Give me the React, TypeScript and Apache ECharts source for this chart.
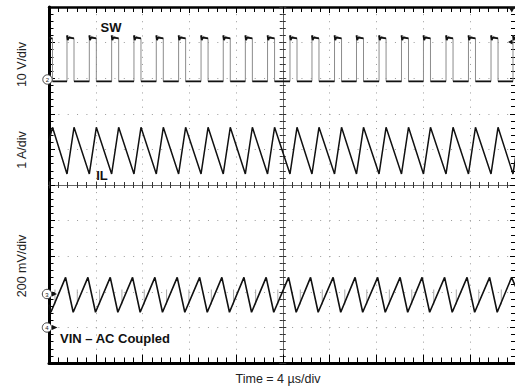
import React, { useEffect, useRef } from 'react';
import * as echarts from 'echarts';

// ---------- time base ----------
const timeMinUs = 0;
const timeMaxUs = 40; // 10 div x 4 us/div
const timeDivUs = 4;

// ---------- channel 2: SW node (10 V/div) ----------
const swRiseUs = [1.54, 3.45, 5.36, 7.27, 9.18, 11.09, 13.01, 14.91, 16.8, 18.7, 20.62, 22.5, 24.43, 26.31, 28.24, 30.16, 32.04, 33.97, 35.89, 37.82, 39.7];
const swFallUs = [0.3, 2.14, 4.05, 5.96, 7.87, 9.78, 11.69, 13.61, 15.51, 17.4, 19.3, 21.22, 23.1, 25.03, 26.91, 28.84, 30.76, 32.64, 34.57, 36.49, 38.42];
const swLowV = -0.4;
const swHighV = 11.7;
const swOvershootV = 12.5;
const swRingV = 11.2;

// ---------- channel 1: IL (1 A/div) ----------
const ilPeakA = 2.62;
const ilValleyA = 1.31;
const ilStartA = 2.25;
const ilEndA = 1.95;

// ---------- channel 3: VIN AC coupled (200 mV/div) ----------
const vinPeakUs = [1.42, 3.33, 5.24, 7.15, 9.06, 10.97, 12.89, 14.79, 16.68, 18.58, 20.5, 22.38, 24.31, 26.19, 28.12, 30.04, 31.92, 33.85, 35.77, 37.7, 39.58];
const vinTroughUs = [0.16, 2.07, 3.98, 5.89, 7.8, 9.71, 11.62, 13.54, 15.44, 17.33, 19.23, 21.15, 23.03, 24.96, 26.84, 28.77, 30.69, 32.57, 34.5, 36.42, 38.35];
const vinSpikeUs = [0.51, 2.42, 4.33, 6.24, 8.15, 10.06, 11.97, 13.89, 15.79, 17.68, 19.58, 21.5, 23.38, 25.31, 27.19, 29.12, 31.04, 32.92, 34.85, 36.77, 38.7];
const vinPeakMv = 93;
const vinTroughMv = -103;
const vinStartMv = -60;
const vinEndMv = 30;
const vinSpikeLowMv = -60;
const vinSpikeHighMv = 25;

// ---------- channel scales (units/div, reference position in div from bottom) ----------
const swPerDiv = 10, swRefDiv = 7.95;
const ilPerDiv = 1, ilRefDiv = 4;
const vinPerDiv = 200, vinRefDiv = 1.94;

// ---------- labels ----------
const yNames = ['10 V/div', '1 A/div', '200 mV/div'];
const xName = 'Time = 4 \u00b5s/div';
const traceNames = ['SW', 'IL', 'VIN \u2013 AC Coupled'];

type P = [number, number | string];

function buildSwEdges(): P[] {
  const ev = [
    ...swFallUs.map((t) => ({ t, k: 'f' })),
    ...swRiseUs.map((t) => ({ t, k: 'r' })),
  ].sort((a, b) => a.t - b.t);
  const d: P[] = [[timeMinUs, swHighV]];
  let last = swHighV;
  for (const e of ev) {
    if (e.k === 'f') {
      d.push([e.t, swHighV], [e.t, swLowV]);
      last = swLowV;
    } else {
      d.push([e.t, swLowV], [e.t, swOvershootV]);
      last = swHighV;
    }
  }
  d.push([timeMaxUs, last]);
  return d;
}

function buildSwLevels(): P[] {
  const ev = [
    ...swFallUs.map((t) => ({ t, k: 'f' })),
    ...swRiseUs.map((t) => ({ t, k: 'r' })),
  ].sort((a, b) => a.t - b.t);
  const d: P[] = [[timeMinUs, swHighV]];
  for (const e of ev) {
    if (e.k === 'f') {
      d.push([e.t, swHighV], [e.t, '-'], [e.t, swLowV]);
    } else {
      d.push([e.t, swLowV], [e.t, '-'], [e.t, swOvershootV], [e.t + 0.06, swRingV], [e.t + 0.14, swHighV + 0.2]);
    }
  }
  const lastRise = swRiseUs[swRiseUs.length - 1];
  const lastFall = swFallUs[swFallUs.length - 1];
  d.push([timeMaxUs, lastRise > lastFall ? swHighV : swLowV]);
  return d;
}

function buildIl(): P[] {
  const ev = [
    ...swFallUs.map((t) => [t, ilPeakA] as P),
    ...swRiseUs.map((t) => [t, ilValleyA] as P),
  ].sort((a, b) => (a[0] as number) - (b[0] as number));
  return [[timeMinUs, ilStartA], ...ev, [timeMaxUs, ilEndA]];
}

function buildVin(): P[] {
  const ev = [
    ...vinPeakUs.map((t) => [t, vinPeakMv] as P),
    ...vinTroughUs.map((t) => [t, vinTroughMv] as P),
  ].sort((a, b) => (a[0] as number) - (b[0] as number));
  return [[timeMinUs, vinStartMv], ...ev, [timeMaxUs, vinEndMv]];
}

function buildVinSpikes(): P[] {
  const d: P[] = [];
  for (const t of vinSpikeUs) {
    d.push([t, vinSpikeLowMv], [t, vinSpikeHighMv], [t, '-']);
  }
  return d;
}

const FONT = '"Liberation Sans", Arial, Helvetica, sans-serif';
const DOT = '#9a9a9a';

function buildOption(): any {
  const xBase = {
    type: 'value',
    min: timeMinUs,
    max: timeMaxUs,
    interval: timeDivUs,
    axisLabel: { show: false },
    splitLine: { show: false },
  };
  const yBase = {
    type: 'value',
    min: 0,
    max: 10,
    interval: 1,
    axisLabel: { show: false },
    splitLine: { show: false },
  };
  const marker = (cx: number, cy: number, label: string) => [
    { type: 'circle', shape: { cx, cy, r: 4.7 }, style: { fill: '#fff', stroke: '#444', lineWidth: 1 }, z: 20 },
    {
      type: 'text', x: cx, y: cy + 0.5, z: 21,
      style: { text: label, font: '6px ' + FONT, fill: '#222', textAlign: 'center', textVerticalAlign: 'middle' },
    },
  ];
  return {
    animation: false,
    backgroundColor: '#fff',
    grid: { left: 49, top: 7, width: 467.5, height: 356, outerBoundsMode: 'none', containLabel: false },
    xAxis: [
      {
        ...xBase, position: 'bottom',
        axisLine: { show: true, onZero: false, lineStyle: { color: '#000', width: 3 } },
        axisTick: { show: true, inside: true, length: 8.5, lineStyle: { color: '#000', width: 1 } },
        minorTick: { show: true, splitNumber: 5, length: 5.5, lineStyle: { color: '#000', width: 1 } },
        splitLine: { show: true, lineStyle: { color: DOT, width: 1, type: [1, 6.12] } },
      },
      {
        ...xBase, position: 'top',
        axisLine: { show: true, onZero: false, lineStyle: { color: '#000', width: 2.5 } },
        axisTick: { show: true, inside: true, length: 6, lineStyle: { color: '#000', width: 1 } },
        minorTick: { show: true, splitNumber: 5, length: 5, lineStyle: { color: '#000', width: 1 } },
      },
      {
        ...xBase, position: 'bottom', offset: -178,
        axisLine: { show: true, onZero: false, lineStyle: { color: '#666', width: 1 } },
        axisTick: { show: true, inside: true, length: 3.5, lineStyle: { color: '#333', width: 1 } },
        minorTick: { show: true, splitNumber: 5, length: 3, lineStyle: { color: '#333', width: 1 } },
      },
      {
        ...xBase, position: 'bottom', offset: -178,
        axisLine: { show: false, onZero: false },
        axisTick: { show: true, inside: false, length: 3.5, lineStyle: { color: '#333', width: 1 } },
        minorTick: { show: true, splitNumber: 5, length: 3, lineStyle: { color: '#333', width: 1 } },
      },
    ],
    yAxis: [
      {
        ...yBase, position: 'left',
        axisLine: { show: true, onZero: false, lineStyle: { color: '#000', width: 3 } },
        axisTick: { show: true, inside: true, length: 6, lineStyle: { color: '#000', width: 1 } },
        minorTick: { show: true, splitNumber: 5, length: 4.5, lineStyle: { color: '#000', width: 1 } },
        splitLine: { show: true, lineStyle: { color: DOT, width: 1, type: [1, 8.35] } },
      },
      {
        ...yBase, position: 'right',
        axisLine: { show: false, onZero: false },
        axisTick: { show: true, inside: true, length: 6.5, lineStyle: { color: '#000', width: 1 } },
        minorTick: { show: true, splitNumber: 5, length: 5.5, lineStyle: { color: '#000', width: 1 } },
      },
      {
        ...yBase, position: 'left', offset: -233.75,
        axisLine: { show: true, onZero: false, lineStyle: { color: '#666', width: 1 } },
        axisTick: { show: true, inside: true, length: 3.5, lineStyle: { color: '#333', width: 1 } },
        minorTick: { show: true, splitNumber: 5, length: 3, lineStyle: { color: '#333', width: 1 } },
      },
      {
        ...yBase, position: 'left', offset: -233.75,
        axisLine: { show: false, onZero: false },
        axisTick: { show: true, inside: false, length: 3.5, lineStyle: { color: '#333', width: 1 } },
        minorTick: { show: true, splitNumber: 5, length: 3, lineStyle: { color: '#333', width: 1 } },
      },
      { type: 'value', show: false, min: -swRefDiv * swPerDiv, max: (10 - swRefDiv) * swPerDiv },
      { type: 'value', show: false, min: -ilRefDiv * ilPerDiv, max: (10 - ilRefDiv) * ilPerDiv },
      { type: 'value', show: false, min: -vinRefDiv * vinPerDiv, max: (10 - vinRefDiv) * vinPerDiv },
    ],
    series: [
      {
        name: 'SW edges', type: 'line', xAxisIndex: 0, yAxisIndex: 4, data: buildSwEdges(),
        symbol: 'none', silent: true, lineStyle: { color: '#8c8c8c', width: 1 }, z: 3,
      },
      {
        name: 'SW', type: 'line', xAxisIndex: 0, yAxisIndex: 4, data: buildSwLevels(),
        symbol: 'none', silent: true, connectNulls: false, lineStyle: { color: '#111', width: 1.8 }, z: 4,
      },
      {
        name: 'IL', type: 'line', xAxisIndex: 0, yAxisIndex: 5, data: buildIl(),
        symbol: 'none', silent: true, lineStyle: { color: '#111', width: 1.5 }, z: 4,
      },
      {
        name: 'VIN spikes', type: 'line', xAxisIndex: 0, yAxisIndex: 6, data: buildVinSpikes(),
        symbol: 'none', silent: true, connectNulls: false, lineStyle: { color: '#aaa', width: 1 }, z: 3,
      },
      {
        name: 'VIN', type: 'line', xAxisIndex: 0, yAxisIndex: 6, data: buildVin(),
        symbol: 'none', silent: true, lineStyle: { color: '#111', width: 1.6 }, z: 4,
      },
    ],
    graphic: [
      {
        type: 'text', x: 22, y: 64.5, rotation: Math.PI / 2,
        style: { text: yNames[0], font: '12.5px ' + FONT, fill: '#222', textAlign: 'center', textVerticalAlign: 'middle' },
      },
      {
        type: 'text', x: 22, y: 150, rotation: Math.PI / 2,
        style: { text: yNames[1], font: '12.5px ' + FONT, fill: '#222', textAlign: 'center', textVerticalAlign: 'middle' },
      },
      {
        type: 'text', x: 22, y: 266, rotation: Math.PI / 2,
        style: { text: yNames[2], font: '12.5px ' + FONT, fill: '#222', textAlign: 'center', textVerticalAlign: 'middle' },
      },
      {
        type: 'text', x: 278, y: 379,
        style: { text: xName, font: '12.5px ' + FONT, fill: '#222', textAlign: 'center', textVerticalAlign: 'middle' },
      },
      {
        type: 'text', x: 111, y: 27, z: 10,
        style: { text: traceNames[0], font: 'bold 13px ' + FONT, fill: '#111', textAlign: 'center', textVerticalAlign: 'middle' },
      },
      {
        type: 'text', x: 102, y: 175, z: 10,
        style: { text: traceNames[1], font: 'bold 13px ' + FONT, fill: '#111', textAlign: 'center', textVerticalAlign: 'middle' },
      },
      {
        type: 'text', x: 60, y: 338.5, z: 10,
        style: { text: traceNames[2], font: 'bold 13px ' + FONT, fill: '#111', textAlign: 'left', textVerticalAlign: 'middle' },
      },
      ...marker(47.5, 79.5, '2'),
      ...marker(47, 294, '3'),
      ...marker(47, 327.5, '4'),
      { type: 'polygon', shape: { points: [[52, 291.5], [52, 296.5], [57, 294]] }, style: { fill: '#111' }, z: 20 },
      { type: 'polygon', shape: { points: [[52, 325], [52, 330], [57.5, 327.5]] }, style: { fill: '#111' }, z: 20 },
      { type: 'polygon', shape: { points: [[508.5, 7], [515, 7], [511.8, 12.5]] }, style: { fill: '#111' }, z: 20 },
      { type: 'polygon', shape: { points: [[508, 42], [512.5, 39.5], [512.5, 44.5]] }, style: { fill: '#111' }, z: 20 },
    ],
  };
}

export default function App() {
  const ref = useRef<HTMLDivElement>(null);
  useEffect(() => {
    if (!ref.current) return;
    const chart = echarts.init(ref.current, null, { renderer: 'svg' });
    chart.setOption(buildOption());
    return () => chart.dispose();
  }, []);
  return (
    <div
      ref={ref}
      style={{ position: 'absolute', left: 0, top: 0, width: 515, height: 389, background: '#fff' }}
    />
  );
}
